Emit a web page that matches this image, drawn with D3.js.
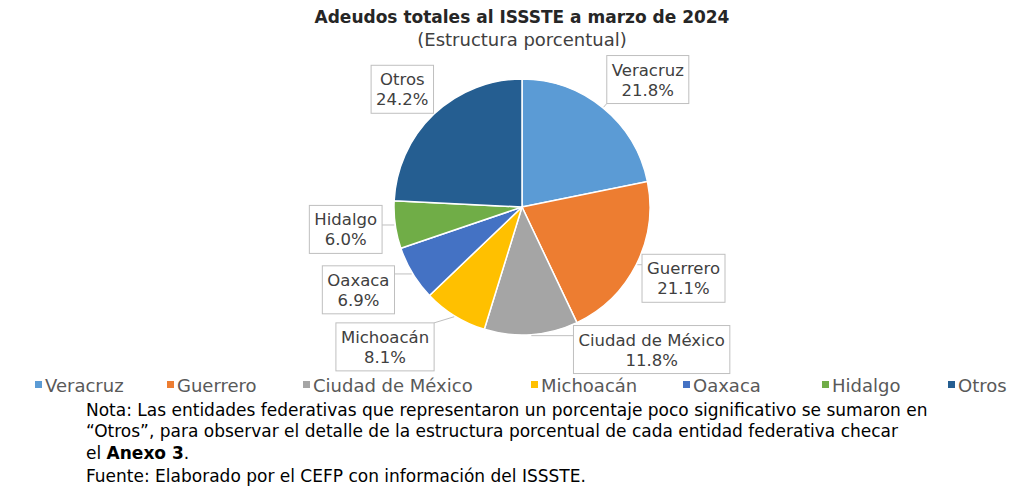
<!DOCTYPE html>
<html>
<head>
<meta charset="utf-8">
<script src="https://cdn.jsdelivr.net/npm/d3@7"></script>
<style>
  body { margin: 0; background: #fff; }
  svg text { font-family: "DejaVu Sans", sans-serif; fill: #262626; }
</style>
</head>
<body>
<div id="chart"></div>
<script>
// data
var entidades = ["Veracruz", "Guerrero", "Ciudad de México", "Michoacán", "Oaxaca", "Hidalgo", "Otros"];
var porcentajes = [21.8, 21.1, 11.8, 8.1, 6.9, 6.0, 24.2];
var colores = ["#5B9BD5", "#ED7D31", "#A5A5A5", "#FFC000", "#4472C4", "#70AD47", "#255E91"];
var titulo = "Adeudos totales al ISSSTE a marzo de 2024";
var subtitulo = "(Estructura porcentual)";
var notas = [
  "Nota: Las entidades federativas que representaron un porcentaje poco significativo se sumaron en",
  "\u201cOtros\u201d, para observar el detalle de la estructura porcentual de cada entidad federativa checar",
  "el <b>Anexo 3</b>.",
  "Fuente: Elaborado por el CEFP con información del ISSSTE."
];

var W = 1024, H = 498;
var cx = 522, cy = 207, R = 128;

var svg = d3.select("#chart").append("svg")
  .attr("width", W).attr("height", H);
svg.append("rect").attr("width", W).attr("height", H).attr("fill", "#fff");

svg.append("text").attr("x", cx).attr("y", 23).attr("text-anchor", "middle")
  .style("font-size", "17px").style("font-weight", "bold").text(titulo);
svg.append("text").attr("x", cx).attr("y", 46).attr("text-anchor", "middle")
  .style("font-size", "18px").style("fill", "#404040").text(subtitulo);

var data = entidades.map(function(d, i) { return {name: d, value: porcentajes[i], color: colores[i]}; });

var pie = d3.pie().sort(null).value(function(d) { return d.value; });
var arc = d3.arc().innerRadius(0).outerRadius(R);
var arcs = pie(data);

var g = svg.append("g").attr("transform", "translate(" + cx + "," + cy + ")");

g.selectAll(".slice").data(arcs).enter()
  .append("path").attr("class", "slice")
  .attr("d", arc)
  .attr("fill", function(d) { return d.data.color; })
  .attr("stroke", "#fff").attr("stroke-width", 1.5);

// label layout: radial position, nudged the way the original labels were dragged
var labelR = 175;
var nudge = {
  "Veracruz": [15, 8], "Guerrero": [5, -7], "Ciudad de México": [117, -32],
  "Michoacán": [-45, -9], "Oaxaca": [-14, -8], "Hidalgo": [-3, -2], "Otros": [1, 9]
};
var fmt = d3.format(".1f");

arcs.forEach(function(d) {
  var a = (d.startAngle + d.endAngle) / 2;
  var n = nudge[d.data.name] || [0, 0];
  var lx = labelR * Math.sin(a) + n[0];
  var ly = -labelR * Math.cos(a) + n[1];
  var lab = g.append("g");
  var t = lab.append("text").attr("text-anchor", "middle").style("font-size", "16.5px").style("fill", "#404040");
  t.append("tspan").attr("x", lx).attr("y", ly - 4).text(d.data.name);
  t.append("tspan").attr("x", lx).attr("y", ly + 16).text(fmt(d.data.value) + "%");
  var bb = t.node().getBBox();
  var bx = bb.x - 5, by = bb.y - 5, bw = bb.width + 10, bh = bb.height + 9;
  lab.insert("rect", "text").attr("x", bx).attr("y", by).attr("width", bw).attr("height", bh)
    .attr("fill", "#fff").attr("stroke", "#BFBFBF").attr("stroke-width", 1);
  // leader line from the slice edge to the nearest point of the box
  var ex = (R + 1) * Math.sin(a), ey = -(R + 1) * Math.cos(a);
  var px = Math.max(bx, Math.min(ex, bx + bw)), py = Math.max(by, Math.min(ey, by + bh));
  if (Math.hypot(px - ex, py - ey) > 2) {
    g.insert("line", "g").attr("x1", ex).attr("y1", ey).attr("x2", px).attr("y2", py)
      .attr("stroke", "#BFBFBF").attr("stroke-width", 1);
  }
});

// legend
var legX = [35, 167, 303, 531, 683, 822, 948];
var leg = svg.append("g").selectAll("g").data(data).enter().append("g")
  .attr("transform", function(d, i) { return "translate(" + legX[i] + ",385)"; });
leg.append("rect").attr("x", 0).attr("y", -4).attr("width", 7).attr("height", 7)
  .attr("fill", function(d) { return d.color; });
leg.append("text").attr("x", 10).attr("y", 7).style("font-size", "18px").style("fill", "#595959")
  .text(function(d) { return d.name; });

// notes
var notaY = [416, 437, 459, 482];
notas.forEach(function(n, i) {
  svg.append("text").attr("x", 86).attr("y", notaY[i]).style("font-size", "17px").style("fill", "#000")
    .html(n.replace("<b>", "<tspan font-weight='bold'>").replace("</b>", "</tspan>"));
});
</script>
</body>
</html>
